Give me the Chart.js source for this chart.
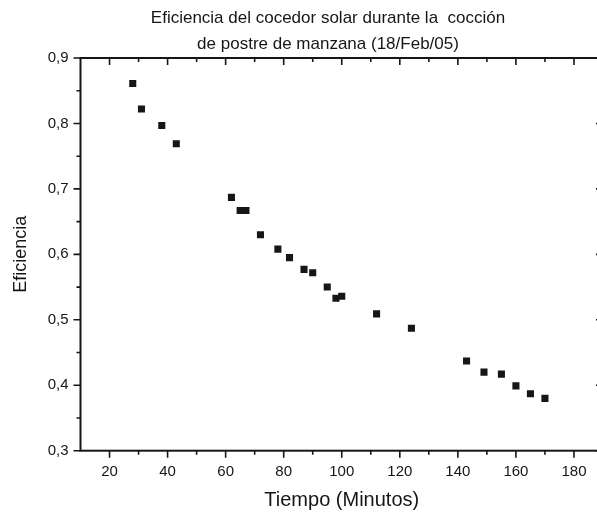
<!DOCTYPE html>
<html>
<head>
<meta charset="utf-8">
<title>Eficiencia del cocedor solar</title>
<script src="https://cdn.jsdelivr.net/npm/chart.js@4/dist/chart.umd.min.js"></script>
<style>
  html, body { margin: 0; padding: 0; background: #fff; overflow: hidden; }
  #marco { position: relative; width: 612px; height: 516px; }
</style>
</head>
<body>
<div id="marco"><canvas id="grafica"></canvas></div>
<script>
// mediciones del 18/Feb/05
const tiempo = [28, 31, 38, 43, 62, 65, 67, 72, 78, 82, 87, 90, 95, 98, 100, 112, 124, 143, 149, 155, 160, 165, 170];
const eficiencia = [0.861, 0.822, 0.797, 0.769, 0.687, 0.667, 0.667, 0.630, 0.608, 0.595, 0.577, 0.572, 0.550, 0.533, 0.536,
  0.509, 0.487, 0.437, 0.420, 0.417, 0.399, 0.387, 0.380];

const titulo = ['Eficiencia del cocedor solar durante la  cocción', 'de postre de manzana (18/Feb/05)'];
const tituloX = 'Tiempo (Minutos)';
const tituloY = 'Eficiencia';

const xMayores = [20, 40, 60, 80, 100, 120, 140, 160, 180];
const xMenores = [30, 50, 70, 90, 110, 130, 150, 170];
const yMayores = [0.3, 0.4, 0.5, 0.6, 0.7, 0.8, 0.9];
const yMenores = [0.35, 0.45, 0.55, 0.65, 0.75, 0.85];
const yEtiquetas = ['0,3', '0,4', '0,5', '0,6', '0,7', '0,8', '0,9'];

const tinta = '#161616';
const fuente = 'Liberation Sans, Arial, Helvetica, sans-serif';

// marco cerrado con marcas hacia fuera (abajo/izquierda) y hacia dentro (arriba/derecha)
const ejes = {
  id: 'ejes',
  beforeDatasetsDraw(chart) {
    const { ctx, chartArea: a, scales: { x, y } } = chart;
    ctx.save();
    ctx.strokeStyle = tinta;
    ctx.lineWidth = 2;
    ctx.strokeRect(a.left, a.top, a.right - a.left, a.bottom - a.top);
    ctx.lineWidth = 1.6;
    ctx.beginPath();
    const marcaX = (v, len) => {
      const px = x.getPixelForValue(v);
      ctx.moveTo(px, a.bottom); ctx.lineTo(px, a.bottom + len);
      ctx.moveTo(px, a.top); ctx.lineTo(px, a.top + len);
    };
    const marcaY = (v, len) => {
      const py = y.getPixelForValue(v);
      ctx.moveTo(a.left, py); ctx.lineTo(a.left - len, py);
      ctx.moveTo(a.right, py); ctx.lineTo(a.right - len, py);
    };
    xMayores.forEach(v => marcaX(v, 7));
    xMenores.forEach(v => marcaX(v, 4));
    yMayores.forEach(v => marcaY(v, 7));
    yMenores.forEach(v => marcaY(v, 4));
    ctx.stroke();
    ctx.restore();
  },
  afterDraw(chart) {
    const { ctx } = chart;
    ctx.save();
    ctx.fillStyle = tinta;
    ctx.font = '17px ' + fuente;
    ctx.textAlign = 'center';
    ctx.textBaseline = 'middle';
    titulo.forEach((t, i) => ctx.fillText(t, 328, 18 + i * 26.5));
    ctx.restore();
  }
};

const cfg = {
  type: 'scatter',
  data: {
    datasets: [{
      data: tiempo.map((t, i) => ({ x: t, y: eficiencia[i] })),
      pointStyle: 'rect',
      pointRadius: 5,
      pointHoverRadius: 5,
      borderWidth: 0,
      backgroundColor: tinta,
      borderColor: tinta
    }]
  },
  options: {
    responsive: true,
    maintainAspectRatio: false,
    animation: false,
    layout: { padding: { top: 58, right: 9, left: 0, bottom: 0 } },
    plugins: { legend: { display: false }, tooltip: { enabled: false }, title: { display: false } },
    scales: {
      x: {
        type: 'linear',
        min: 10,
        max: 190,
        grid: { display: false, drawTicks: false },
        border: { display: false },
        afterBuildTicks: s => { s.ticks = xMayores.map(v => ({ value: v })); },
        afterFit: s => { s.height = 65.3; },
        ticks: { color: tinta, font: { family: fuente, size: 15 }, padding: 12, maxRotation: 0 },
        title: { display: true, text: tituloX, color: tinta, font: { family: fuente, size: 20 }, padding: { top: 0, bottom: 4 } }
      },
      y: {
        type: 'linear',
        min: 0.3,
        max: 0.9,
        grid: { display: false, drawTicks: false },
        border: { display: false },
        afterBuildTicks: s => { s.ticks = yMayores.map(v => ({ value: v })); },
        afterFit: s => { s.width = 80.5; },
        ticks: {
          color: tinta,
          font: { family: fuente, size: 15 },
          padding: 12,
          callback: (v, i) => yEtiquetas[i]
        },
        title: { display: true, text: tituloY, color: tinta, font: { family: fuente, size: 18 }, padding: { top: 10, bottom: 0 } }
      }
    }
  },
  plugins: [ejes]
};

new Chart(document.getElementById('grafica'), cfg);
</script>
</body>
</html>
